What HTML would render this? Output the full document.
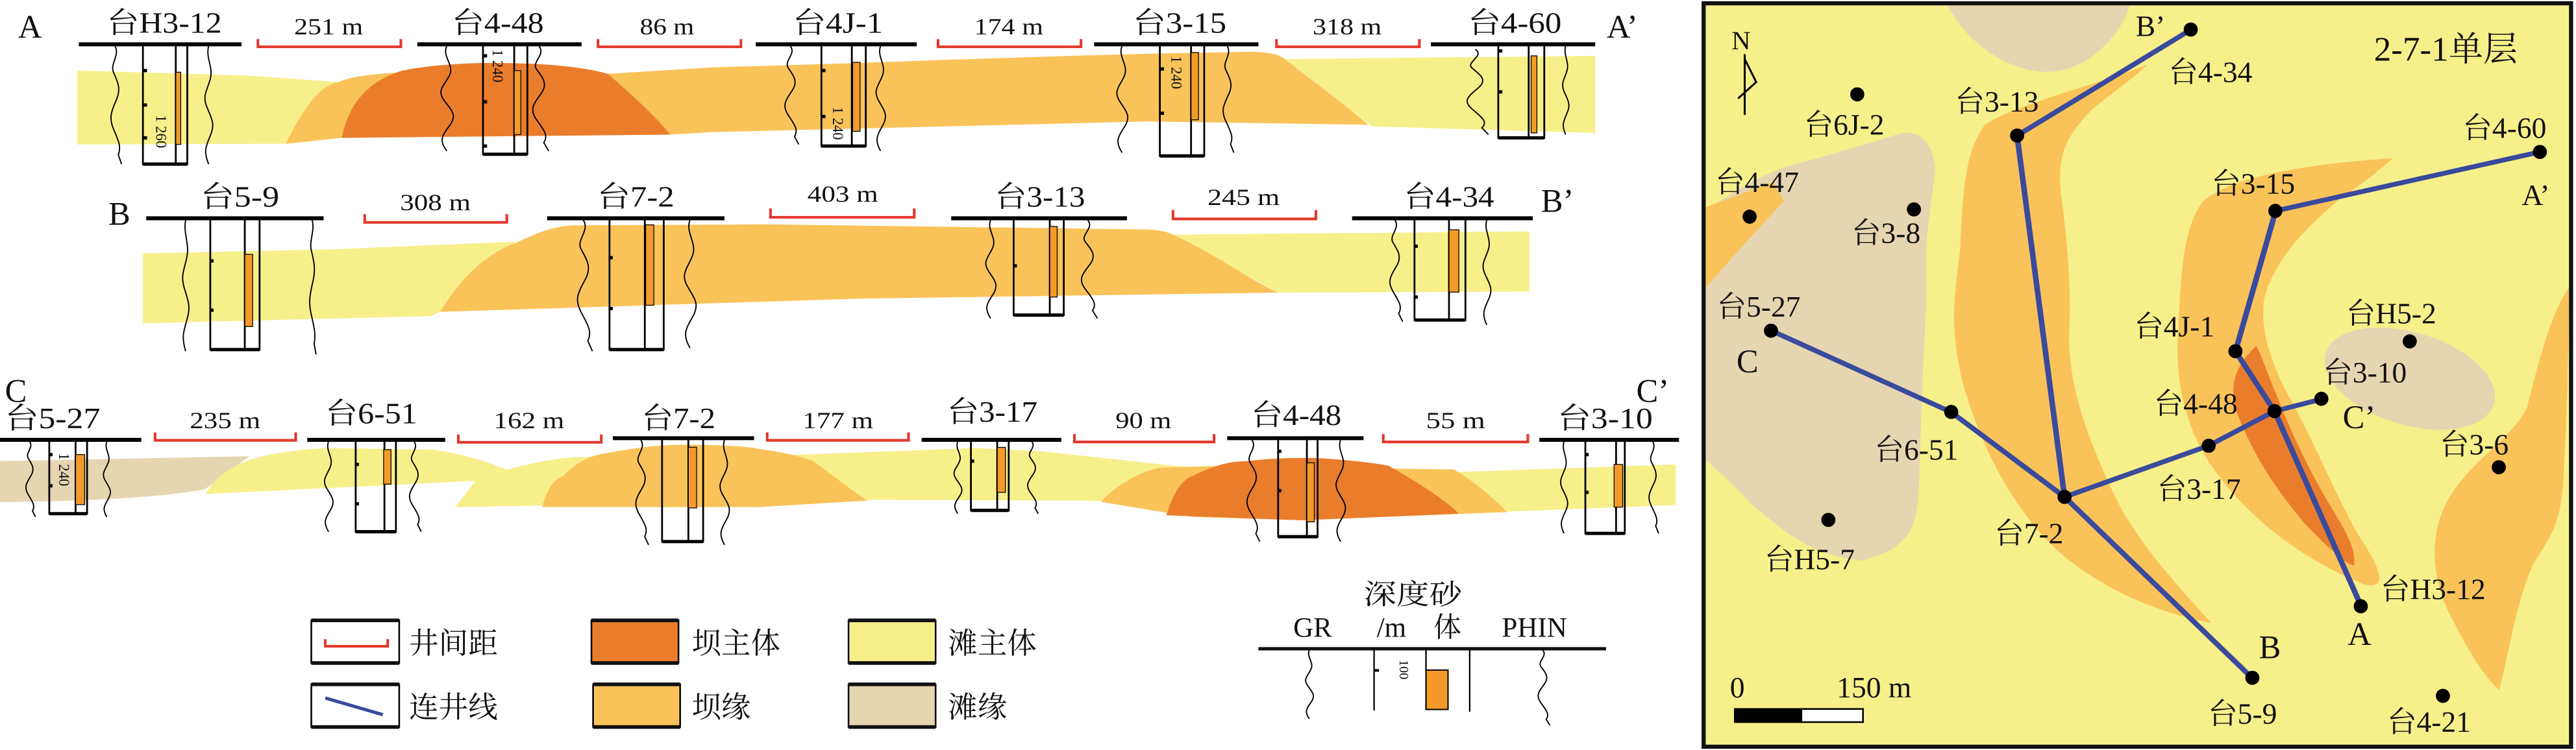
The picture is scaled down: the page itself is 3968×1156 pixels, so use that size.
<!DOCTYPE html>
<html><head><meta charset="utf-8"><style>
html,body{margin:0;padding:0;background:#fff;}
svg{display:block;}
text{font-family:"Liberation Serif","Noto Serif CJK SC","Noto Sans CJK SC",serif;fill:#111;}
</style></head><body>
<svg width="3968" height="1156" viewBox="0 0 1568 457" preserveAspectRatio="none" xmlns="http://www.w3.org/2000/svg">
<defs>
<path id="wA" d="M0,0 C3,8 -3,15 -1,22 S4,35 1,45 S-4,60 -1,70 S4,85 2,92 L4,100" fill="none" stroke="#000" stroke-width="1.9" vector-effect="non-scaling-stroke"/>
<path id="wB" d="M0,0 C-2,10 3,18 1,28 S-4,42 -1,52 S4,66 1,76 S-3,90 0,100" fill="none" stroke="#000" stroke-width="1.9" vector-effect="non-scaling-stroke"/>
</defs>
<rect width="1568" height="457" fill="#fff"/>

<!-- ROW A bands -->
<path d="M47,43 L150,46 L206,50 L174,87.6 L47,88 Z" fill="#f7ef8a"/>
<path d="M782,36 L971,34 L971,81 L835,77 Z" fill="#f7ef8a"/>
<path d="M174,87.6 C185,65 195,52 206,50 C215,46 230,45 245,44 L370,45 L434,41 C550,38 650,33 763,31.6 C775,32 780,34 782,36 C800,50 820,65 833,76 L699,74 L434,80.5 L408,82 L208,84 Z" fill="#f9c35a"/>
<path d="M208,84 C212,65 222,50 245,43 C270,38 300,38 314,38.6 C340,39 360,42 370,45 C385,58 400,72 408,82 Z" fill="#ea7d2c"/>

<!-- ROW B bands -->
<path d="M87,154.4 L200,152 L314,147.3 L268,190 L262,192.6 L87,197 Z" fill="#f7ef8a"/>
<path d="M714,143 L931,141 L931,177.7 L778,178.3 Z" fill="#f7ef8a"/>
<path d="M268,190 C280,170 295,155 314,148 C325,143 335,138 349,137.3 L465,136.7 L697,139.8 C705,140 710,141 714,143 C740,155 760,170 778,178.3 L523,182 Z" fill="#f9c35a"/>

<!-- ROW C bands -->
<path d="M0,281 L152,278 L125,298 Q90,305 0,306 Z" fill="#e6d5b1"/>
<path d="M125,301 C135,285 150,276 198,273 L264,274 Q290,278 310,287 L310,292 Z" fill="#f7ef8a"/>
<path d="M277,309 L290,292.5 C310,285 330,280 350,278.6 L488,277 L594,273 L634,275 L726,285 L891,287.5 L1020,283 L1020,307.7 L911,312 L660,305 L528,304.5 Z" fill="#f7ef8a"/>
<path d="M330,309 C333,298 337,292 343,290 C350,282 360,277 370,276 C390,272 405,271 416,271 C440,271 455,272 462,273.5 C480,276 490,279 495,281 C510,292 520,300 528,305 L462,309 Z" fill="#f9c35a"/>
<path d="M670,305.8 C680,295 695,287 706,285 L739,284 L852,285.6 L885,286 C900,295 910,305 917.6,312 L792,317 L726,315 Z" fill="#f9c35a"/>
<path d="M710,314 C714,300 720,292 726,290 C740,283 750,281 759,281 C775,279 790,279 799,279 C820,280 835,282 845,283.7 C865,295 880,305 888,313 L792,317 Z" fill="#ea7d2c"/>

<!-- brackets -->
<g fill="none" stroke="#e3372a" stroke-width="1.6">
<path d="M157,23.8 V28.5 H244 V23.8"/><path d="M364,23.8 V28.5 H451 V23.8"/><path d="M571,23.8 V28.5 H658 V23.8"/><path d="M777,23.8 V28.5 H864 V23.8"/>
<path d="M222,130.5 V135.5 H308.5 V130.5"/><path d="M469,127 V132.4 H556.5 V127"/><path d="M714,128 V133.4 H801 V128"/>
<path d="M94.4,263.5 V268.3 H180 V263.5"/><path d="M279,264.7 V269.5 H366 V264.7"/><path d="M467,263.5 V268.3 H553 V263.5"/><path d="M654,264.5 V269.3 H739 V264.5"/><path d="M842,264.5 V269.3 H930 V264.5"/>
</g>
<g font-size="14" text-anchor="middle">
<text x="200" y="21" textLength="42" lengthAdjust="spacingAndGlyphs">251 m</text>
<text x="406" y="21" textLength="33" lengthAdjust="spacingAndGlyphs">86 m</text>
<text x="614" y="21" textLength="42" lengthAdjust="spacingAndGlyphs">174 m</text>
<text x="820" y="21" textLength="42" lengthAdjust="spacingAndGlyphs">318 m</text>
<text x="265" y="128" textLength="43" lengthAdjust="spacingAndGlyphs">308 m</text>
<text x="513" y="123" textLength="43" lengthAdjust="spacingAndGlyphs">403 m</text>
<text x="757" y="125" textLength="44" lengthAdjust="spacingAndGlyphs">245 m</text>
<text x="137" y="261" textLength="43" lengthAdjust="spacingAndGlyphs">235 m</text>
<text x="322" y="261" textLength="43" lengthAdjust="spacingAndGlyphs">162 m</text>
<text x="510" y="261" textLength="43" lengthAdjust="spacingAndGlyphs">177 m</text>
<text x="696" y="261" textLength="34" lengthAdjust="spacingAndGlyphs">90 m</text>
<text x="886" y="261" textLength="36" lengthAdjust="spacingAndGlyphs">55 m</text>
</g>

<!-- well labels -->
<g font-size="18" text-anchor="middle">
<text x="100" y="20" textLength="70" lengthAdjust="spacingAndGlyphs">台H3-12</text>
<text x="303" y="20" textLength="56" lengthAdjust="spacingAndGlyphs">台4-48</text>
<text x="510" y="20" textLength="55" lengthAdjust="spacingAndGlyphs">台4J-1</text>
<text x="718" y="20" textLength="57" lengthAdjust="spacingAndGlyphs">台3-15</text>
<text x="922" y="20" textLength="57" lengthAdjust="spacingAndGlyphs">台4-60</text>
<text x="146" y="126" textLength="48" lengthAdjust="spacingAndGlyphs">台5-9</text>
<text x="387" y="126" textLength="47" lengthAdjust="spacingAndGlyphs">台7-2</text>
<text x="633" y="126" textLength="55" lengthAdjust="spacingAndGlyphs">台3-13</text>
<text x="882" y="126" textLength="55" lengthAdjust="spacingAndGlyphs">台4-34</text>
<text x="32" y="261" textLength="58" lengthAdjust="spacingAndGlyphs">台5-27</text>
<text x="226" y="258" textLength="56" lengthAdjust="spacingAndGlyphs">台6-51</text>
<text x="413" y="261" textLength="45" lengthAdjust="spacingAndGlyphs">台7-2</text>
<text x="604" y="257" textLength="55" lengthAdjust="spacingAndGlyphs">台3-17</text>
<text x="789" y="259" textLength="55" lengthAdjust="spacingAndGlyphs">台4-48</text>
<text x="977" y="261" textLength="58" lengthAdjust="spacingAndGlyphs">台3-10</text>
</g>
<g font-size="20">
<text x="11" y="23">A</text><text x="978" y="23">A’</text>
<text x="66" y="137">B</text><text x="938" y="129">B’</text>
<text x="3" y="245">C</text><text x="996" y="245">C’</text>
</g>

<!-- wells -->
<g stroke="#000" fill="none">
<g stroke-width="2.4">
<line x1="48" y1="27" x2="147" y2="27"/><line x1="254" y1="27" x2="354" y2="27"/><line x1="460" y1="27" x2="558" y2="27"/><line x1="666" y1="27" x2="766" y2="27"/><line x1="871" y1="27" x2="971" y2="27"/>
<line x1="89" y1="133" x2="197" y2="133"/><line x1="333" y1="133" x2="441" y2="133"/><line x1="579" y1="133" x2="686" y2="133"/><line x1="823" y1="133" x2="933" y2="133"/>
<line x1="0" y1="268" x2="86" y2="268"/><line x1="187" y1="268" x2="271" y2="268"/><line x1="373" y1="267" x2="459" y2="267"/><line x1="561" y1="268" x2="646" y2="268"/><line x1="747" y1="267" x2="830" y2="267"/><line x1="937" y1="268" x2="1022" y2="268"/>
</g>
<g stroke-width="1.1">
<rect x="87" y="27" width="27" height="73"/><line x1="107" y1="27" x2="107" y2="100"/>
<rect x="294" y="27" width="27" height="67"/><line x1="313" y1="27" x2="313" y2="94"/>
<rect x="500" y="27" width="27" height="62"/><line x1="518.5" y1="27" x2="518.5" y2="89"/>
<rect x="706" y="27" width="27" height="68"/><line x1="725" y1="27" x2="725" y2="95"/>
<rect x="912" y="27" width="28" height="57"/><line x1="930.5" y1="27" x2="930.5" y2="84"/>
<rect x="128" y="133" width="30" height="80"/><line x1="149" y1="133" x2="149" y2="213"/>
<rect x="371" y="133" width="33" height="80"/><line x1="392.5" y1="133" x2="392.5" y2="213"/>
<rect x="617" y="133" width="30.5" height="59"/><line x1="639" y1="133" x2="639" y2="192"/>
<rect x="861" y="133" width="31" height="62"/><line x1="882" y1="133" x2="882" y2="195"/>
<rect x="30" y="268" width="23" height="45"/><line x1="46" y1="268" x2="46" y2="313"/>
<rect x="216.5" y="268" width="24.5" height="56"/><line x1="234" y1="268" x2="234" y2="324"/>
<rect x="403" y="267" width="25" height="63"/><line x1="419" y1="267" x2="419" y2="330"/>
<rect x="591" y="268" width="23" height="43"/><line x1="607" y1="268" x2="607" y2="311"/>
<rect x="778" y="267" width="24" height="60"/><line x1="795.5" y1="267" x2="795.5" y2="327"/>
<rect x="965" y="268" width="24" height="57"/><line x1="983.7" y1="268" x2="983.7" y2="325"/>
</g>
<g stroke-width="2">
<line x1="87" y1="100" x2="114" y2="100"/><line x1="294" y1="94" x2="321" y2="94"/><line x1="500" y1="89" x2="527" y2="89"/><line x1="706" y1="95" x2="733" y2="95"/><line x1="912" y1="84" x2="940" y2="84"/>
<line x1="128" y1="213" x2="158" y2="213"/><line x1="371" y1="213" x2="404" y2="213"/><line x1="617" y1="192" x2="647.5" y2="192"/><line x1="861" y1="195" x2="892" y2="195"/>
<line x1="30" y1="313" x2="53" y2="313"/><line x1="216.5" y1="324" x2="241" y2="324"/><line x1="403" y1="330" x2="428" y2="330"/><line x1="591" y1="311" x2="614" y2="311"/><line x1="778" y1="327" x2="802" y2="327"/><line x1="965" y1="325" x2="989" y2="325"/>
</g>
</g>
<g fill="#f39a2b" stroke="#000" stroke-width="0.5">
<rect x="107" y="44" width="3" height="44"/><rect x="313" y="43" width="4" height="39"/><rect x="519" y="38" width="4.5" height="42"/><rect x="725" y="32" width="4.5" height="41"/><rect x="932" y="34" width="3.5" height="47"/>
<rect x="149" y="155" width="4.8" height="44"/><rect x="393" y="137" width="5" height="49"/><rect x="639" y="138" width="4.5" height="43"/><rect x="882" y="140" width="6" height="38"/>
<rect x="46" y="277" width="5.5" height="30.5"/><rect x="233.5" y="274" width="4.5" height="21"/><rect x="419" y="272.5" width="5" height="37"/><rect x="607" y="272.6" width="5" height="27.4"/><rect x="795.5" y="282" width="4.5" height="36"/><rect x="982.5" y="283" width="5.2" height="26"/>
</g>
<g fill="#000">
<rect x="87" y="42" width="2.5" height="2"/><rect x="87" y="63" width="2.5" height="2"/><rect x="87" y="83" width="2.5" height="2"/>
<rect x="294" y="33" width="2.5" height="2"/><rect x="294" y="61" width="2.5" height="2"/><rect x="294" y="88" width="2.5" height="2"/>
<rect x="500" y="42" width="2.5" height="2"/><rect x="500" y="70" width="2.5" height="2"/>
<rect x="706" y="41" width="2.5" height="2"/><rect x="706" y="68" width="2.5" height="2"/>
<rect x="912" y="30" width="2.5" height="2"/><rect x="912" y="55" width="2.5" height="2"/>
<rect x="128" y="158" width="2" height="2"/><rect x="128" y="188" width="2" height="2"/>
<rect x="371" y="156" width="2" height="2"/><rect x="371" y="187" width="2" height="2"/>
<rect x="617" y="161" width="2" height="2"/><rect x="861" y="149" width="2" height="2"/><rect x="861" y="180" width="2" height="2"/>
<rect x="30" y="276" width="2" height="2"/><rect x="30" y="295" width="2" height="2"/>
<rect x="216.5" y="282" width="2" height="2"/><rect x="216.5" y="306" width="2" height="2"/>
<rect x="591" y="280" width="2" height="2"/><rect x="778" y="274" width="2" height="2"/><rect x="778" y="298" width="2" height="2"/><rect x="965" y="276" width="2" height="2"/><rect x="965" y="299" width="2" height="2"/>
</g>
<use href="#wA" transform="translate(70,28) scale(1,0.72)"/><use href="#wB" transform="translate(127,28) scale(1,0.72)"/>
<use href="#wB" transform="translate(272,28) scale(1.6,0.64)"/><use href="#wA" transform="translate(328,28) scale(1.5,0.64)"/>
<use href="#wA" transform="translate(481,28) scale(1.3,0.6)"/><use href="#wB" transform="translate(536,28) scale(1.2,0.64)"/>
<use href="#wB" transform="translate(683,28) scale(1.4,0.65)"/><use href="#wA" transform="translate(747,28) scale(1,0.65)"/>
<use href="#wA" transform="translate(898,30) scale(2,0.52)"/><use href="#wB" transform="translate(953,28) scale(0.8,0.54)"/>
<use href="#wB" transform="translate(113,134) scale(0.8,0.8)"/><use href="#wA" transform="translate(190,134) scale(0.6,0.82)"/>
<use href="#wA" transform="translate(355,134) scale(1.4,0.8)"/><use href="#wB" transform="translate(420,134) scale(1.5,0.78)"/>
<use href="#wB" transform="translate(603,134) scale(1.3,0.6)"/><use href="#wA" transform="translate(662,134) scale(1.5,0.6)"/>
<use href="#wA" transform="translate(849,134) scale(1.2,0.62)"/><use href="#wB" transform="translate(905,134) scale(1,0.64)"/>
<use href="#wA" transform="translate(18,269) scale(0.9,0.46)"/><use href="#wB" transform="translate(65,269) scale(0.9,0.46)"/>
<use href="#wB" transform="translate(200,269) scale(1.1,0.55)"/><use href="#wA" transform="translate(252,269) scale(1.1,0.55)"/>
<use href="#wA" transform="translate(390,268) scale(1.2,0.64)"/><use href="#wB" transform="translate(441,268) scale(1.2,0.64)"/>
<use href="#wB" transform="translate(583,269) scale(1,0.44)"/><use href="#wA" transform="translate(628,269) scale(1,0.44)"/>
<use href="#wA" transform="translate(762,268) scale(1.2,0.62)"/><use href="#wB" transform="translate(816,268) scale(1.2,0.62)"/>
<use href="#wB" transform="translate(952,269) scale(0.9,0.56)"/><use href="#wA" transform="translate(1006,269) scale(0.9,0.56)"/>
<g font-size="9">
<text transform="translate(95,70) rotate(90)">1 260</text>
<text transform="translate(300,30) rotate(90)">1 240</text>
<text transform="translate(507,65) rotate(90)">1 240</text>
<text transform="translate(713,34) rotate(90)">1 240</text>
<text transform="translate(36,276) rotate(90)">1 240</text>
</g>

<!-- LEGEND -->
<g stroke="#000" stroke-width="1">
<rect x="189.5" y="378" width="53.5" height="26" fill="#fff"/>
<rect x="360" y="378" width="53" height="26" fill="#ea7d2c"/>
<rect x="516.5" y="378" width="53" height="26" fill="#f7ef8a"/>
<rect x="189.5" y="417" width="53.5" height="26" fill="#fff"/>
<rect x="361" y="417" width="53" height="26" fill="#f9c35a"/>
<rect x="516.5" y="417" width="53" height="26" fill="#e6d5b1"/>
</g>
<g stroke="#111" stroke-width="2.2">
<line x1="189.5" y1="378" x2="243" y2="378"/><line x1="189.5" y1="404" x2="243" y2="404"/>
<line x1="360" y1="378" x2="413" y2="378"/><line x1="360" y1="404" x2="413" y2="404"/>
<line x1="516.5" y1="378" x2="569.5" y2="378"/><line x1="516.5" y1="404" x2="569.5" y2="404"/>
<line x1="189.5" y1="417" x2="243" y2="417"/><line x1="189.5" y1="443" x2="243" y2="443"/>
<line x1="361" y1="417" x2="414" y2="417"/><line x1="361" y1="443" x2="414" y2="443"/>
<line x1="516.5" y1="417" x2="569.5" y2="417"/><line x1="516.5" y1="443" x2="569.5" y2="443"/>
</g>
<path d="M198,389.5 V393.8 H236 V389.5" fill="none" stroke="#e3372a" stroke-width="1.6"/>
<line x1="198" y1="425.3" x2="233" y2="435.5" stroke="#3a4a9c" stroke-width="2"/>
<g font-size="18">
<text x="249" y="398">井间距</text><text x="421" y="398">坝主体</text><text x="577" y="398">滩主体</text>
<text x="249" y="437">连井线</text><text x="421" y="437">坝缘</text><text x="577" y="437">滩缘</text>
</g>
<line x1="766" y1="395.3" x2="977.6" y2="395.3" stroke="#111" stroke-width="2"/>
<g stroke="#000" stroke-width="0.9">
<line x1="836.4" y1="395" x2="836.4" y2="433"/><line x1="868" y1="395" x2="868" y2="432.5"/><line x1="894.6" y1="395" x2="894.6" y2="433.7"/>
</g>
<rect x="868" y="408.3" width="13.4" height="24" fill="#f39a2b" stroke="#000" stroke-width="0.8"/>
<rect x="836.4" y="407.7" width="3" height="1.6" fill="#000"/>
<text transform="translate(852,402) rotate(90)" font-size="8">100</text>
<use href="#wB" transform="translate(797,396) scale(1,0.42)"/><use href="#wA" transform="translate(939,396) scale(1.1,0.46)"/>
<g font-size="17" text-anchor="middle">
<text x="860" y="368" textLength="60" lengthAdjust="spacingAndGlyphs">深度砂</text>
<text x="799" y="388">GR</text><text x="847" y="388">/m</text><text x="881" y="388">体</text><text x="934" y="388">PHIN</text>
</g>

<!-- MAP -->
<rect x="1037" y="2" width="528" height="453" fill="#f7ef8a"/>
<g transform="translate(1035,0) scale(0.34,0.292)">
<path d="M440,5 C480,100 560,150 620,150 C700,150 760,60 770,5 Z" fill="#e6d5b1"/>
<path d="M10,440 C80,380 140,350 180,340 C240,320 300,300 360,278 C400,270 420,310 420,360 C410,450 400,520 405,600 C400,750 395,850 392,1000 C388,1100 380,1140 290,1170 C200,1160 150,1110 90,1050 C50,1000 20,970 10,960 Z" fill="#e6d5b1"/>
<path d="M10,432 L130,380 L150,420 C100,480 40,560 10,600 Z" fill="#f9c35a"/>
<path d="M800,135 C700,180 560,220 510,260 C470,320 470,420 465,520 C455,620 445,680 470,800 C500,920 550,1050 640,1150 C720,1230 820,1280 915,1300 C860,1230 780,1130 740,1030 C700,930 660,820 660,700 C665,600 655,480 645,400 C640,330 650,290 700,230 C740,190 780,160 800,135 Z" fill="#f9c35a"/>
<path d="M1240,330 C1120,340 960,360 900,420 C860,480 860,600 855,700 C850,800 870,900 920,980 C980,1080 1080,1170 1190,1220 C1230,1230 1220,1190 1180,1120 C1140,1040 1110,950 1060,840 C1020,760 1000,680 1010,620 C1030,540 1080,480 1140,420 C1190,380 1220,350 1240,330 Z" fill="#f9c35a"/>
<path d="M995,722 C960,760 945,800 960,860 C990,950 1030,1020 1080,1090 C1120,1140 1160,1180 1170,1180 C1175,1140 1150,1100 1120,1040 C1080,960 1050,880 1030,820 C1015,780 1005,740 995,722 Z" fill="#ea7d2c"/>
<ellipse cx="1270" cy="790" rx="160" ry="95" transform="rotate(22 1270 790)" fill="#e6d5b1"/>
<path d="M1555,600 C1520,660 1500,760 1480,850 C1450,920 1380,960 1340,1040 C1300,1120 1310,1220 1350,1300 C1380,1370 1410,1420 1430,1440 C1450,1350 1460,1260 1490,1180 C1520,1120 1540,1100 1545,1000 C1550,900 1555,750 1555,600 Z" fill="#f9c35a"/>
<g fill="none" stroke="#3a4a9c" stroke-width="10" stroke-linejoin="round">
<polyline points="878,62 567,283 652,1037 988,1415"/>
<polyline points="127,690 449,860 652,1037 910,930 1028,858 1112,833"/>
<polyline points="1503,317 1030,440 958,733 1028,858 1183,1265"/>
</g>
</g>
<g fill="#000">
<circle cx="1333.5" cy="18" r="4.3"/><circle cx="1130.5" cy="57.5" r="4.3"/><circle cx="1227.8" cy="82.6" r="4.3"/><circle cx="1546" cy="92.6" r="4.3"/>
<circle cx="1065" cy="132" r="4.3"/><circle cx="1165" cy="127.6" r="4.3"/><circle cx="1385" cy="128.5" r="4.3"/><circle cx="1078" cy="201.5" r="4.3"/>
<circle cx="1360.7" cy="214" r="4.3"/><circle cx="1466.8" cy="208" r="4.3"/><circle cx="1413" cy="243" r="4.3"/><circle cx="1384.5" cy="250.5" r="4.3"/>
<circle cx="1187.7" cy="251" r="4.3"/><circle cx="1344.4" cy="271.6" r="4.3"/><circle cx="1521" cy="284.7" r="4.3"/><circle cx="1256.7" cy="302.8" r="4.3"/>
<circle cx="1112.9" cy="316.8" r="4.3"/><circle cx="1437" cy="369.4" r="4.3"/><circle cx="1371" cy="413" r="4.3"/><circle cx="1487" cy="424" r="4.3"/>
</g>
<rect x="1037" y="2" width="528" height="453" fill="none" stroke="#111" stroke-width="2.5"/>
<g font-size="18">
<text x="1300" y="22">B’</text><text x="1320" y="50">台4-34</text>
<text x="1190" y="68">台3-13</text><text x="1098" y="82">台6J-2</text><text x="1499" y="84">台4-60</text>
<text x="1044" y="117">台4-47</text><text x="1346" y="118">台3-15</text><text x="1535" y="125">A’</text>
<text x="1127" y="148">台3-8</text><text x="1045" y="193">台5-27</text><text x="1057" y="227" font-size="20">C</text>
<text x="1299" y="205">台4J-1</text><text x="1428" y="197">台H5-2</text><text x="1414" y="233">台3-10</text>
<text x="1311" y="252">台4-48</text><text x="1426" y="261" font-size="20">C’</text>
<text x="1141" y="280">台6-51</text><text x="1485" y="277">台3-6</text><text x="1313" y="304">台3-17</text>
<text x="1214" y="331">台7-2</text><text x="1074" y="347">台H5-7</text><text x="1449" y="365">台H3-12</text>
<text x="1429" y="393" font-size="20">A</text><text x="1375" y="401" font-size="20">B</text>
<text x="1344" y="441">台5-9</text><text x="1453" y="446">台4-21</text>
<text x="1053" y="425">0</text><text x="1118" y="425">150 m</text>
<text x="1054" y="30" font-size="16">N</text>
<text x="1445" y="37" font-size="21">2-7-1单层</text>
</g>
<line x1="1062" y1="33" x2="1062" y2="70" stroke="#000" stroke-width="1.2"/>
<polyline points="1062,36 1069,50 1058,60" fill="none" stroke="#000" stroke-width="1.2"/>
<rect x="1056" y="432" width="78" height="8" fill="#fff" stroke="#000" stroke-width="1"/>
<rect x="1056" y="432" width="41" height="8" fill="#000"/>
</svg>
</body></html>
